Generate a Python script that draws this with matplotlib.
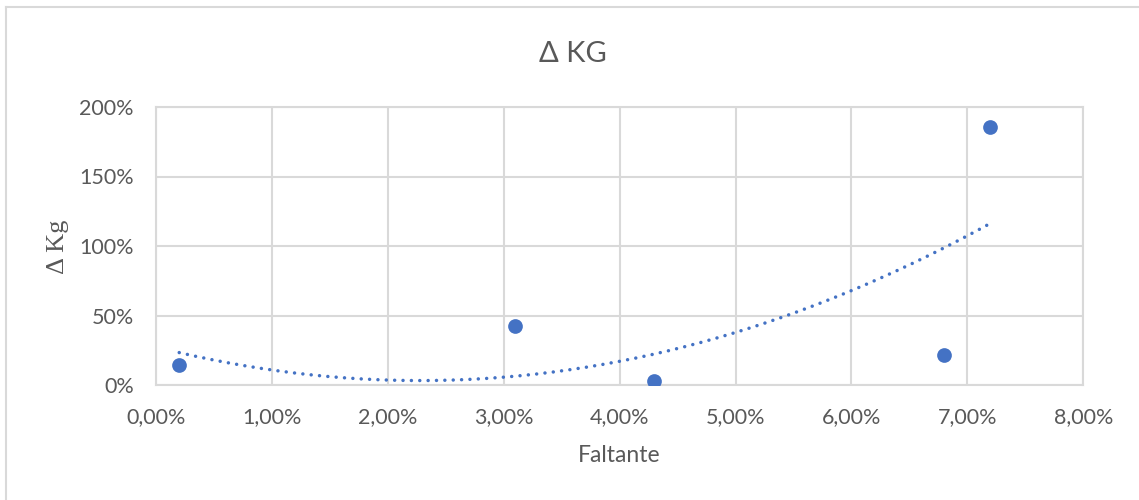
import numpy as np
import matplotlib
matplotlib.use("Agg")
import matplotlib.pyplot as plt
from matplotlib.ticker import FuncFormatter, MultipleLocator
from matplotlib.lines import Line2D

# Faltante (fraction) vs change in kg (fraction)
faltante = [0.002, 0.031, 0.043, 0.068, 0.072]
delta_kg = [0.144, 0.427, 0.031, 0.214, 1.854]

title = "Δ KG"
x_label = "Faltante"
y_label = "Δ Kg"

text_color = "#595959"
grid_color = "#d9d9d9"
point_color = "#4472C4"

plt.rcParams["font.family"] = ["Lato", "DejaVu Sans"]

fig = plt.figure(figsize=(11.39, 5.0), dpi=100)
ax = fig.add_axes([0.137, 0.23, 0.814, 0.556])

# second-order polynomial trendline fitted to the points
coef = np.polyfit(faltante, delta_kg, 2)
xs = np.linspace(min(faltante), max(faltante), 200)
ax.plot(xs, np.polyval(coef, xs), color=point_color, lw=2.5,
        linestyle=(0, (0.01, 2.4)), dash_capstyle="round", zorder=3)

ax.scatter(faltante, delta_kg, s=112, color=point_color, zorder=4, linewidths=0)

ax.set_xlim(0, 0.08)
ax.set_ylim(0, 2.0)
ax.xaxis.set_major_locator(MultipleLocator(0.01))
ax.yaxis.set_major_locator(MultipleLocator(0.5))
ax.xaxis.set_major_formatter(FuncFormatter(lambda v, p: f"{v*100:.2f}%".replace(".", ",")))
ax.yaxis.set_major_formatter(FuncFormatter(lambda v, p: f"{v*100:.0f}%"))

ax.grid(True, color=grid_color, lw=1.5)
ax.set_axisbelow(True)
for s in ax.spines.values():
    s.set_color(grid_color)
    s.set_linewidth(1.5)
ax.tick_params(length=0, labelsize=15.5, colors=text_color)
ax.tick_params(axis="x", pad=16)
ax.tick_params(axis="y", pad=16)

fig.text(573 / 1139, 1 - 54 / 500, title, ha="center", va="center",
         fontsize=21, color=text_color)
fig.text(0.5 * (0.137 + 0.951), 1 - 455 / 500, x_label, ha="center", va="center",
         fontsize=16.5, color=text_color)
fig.text(58 / 1139, 1 - 247 / 500, y_label, ha="center", va="center", rotation=90,
         fontsize=19, color=text_color, family="Liberation Serif")

# chart-area frame along the left and top edges
fig.add_artist(Line2D([6 / 1139, 6 / 1139], [0, 1 - 7 / 500], transform=fig.transFigure,
                      color=grid_color, lw=1.5))
fig.add_artist(Line2D([6 / 1139, 1], [1 - 7 / 500, 1 - 7 / 500], transform=fig.transFigure,
                      color=grid_color, lw=1.5))

fig.savefig("out.png", dpi=100)
